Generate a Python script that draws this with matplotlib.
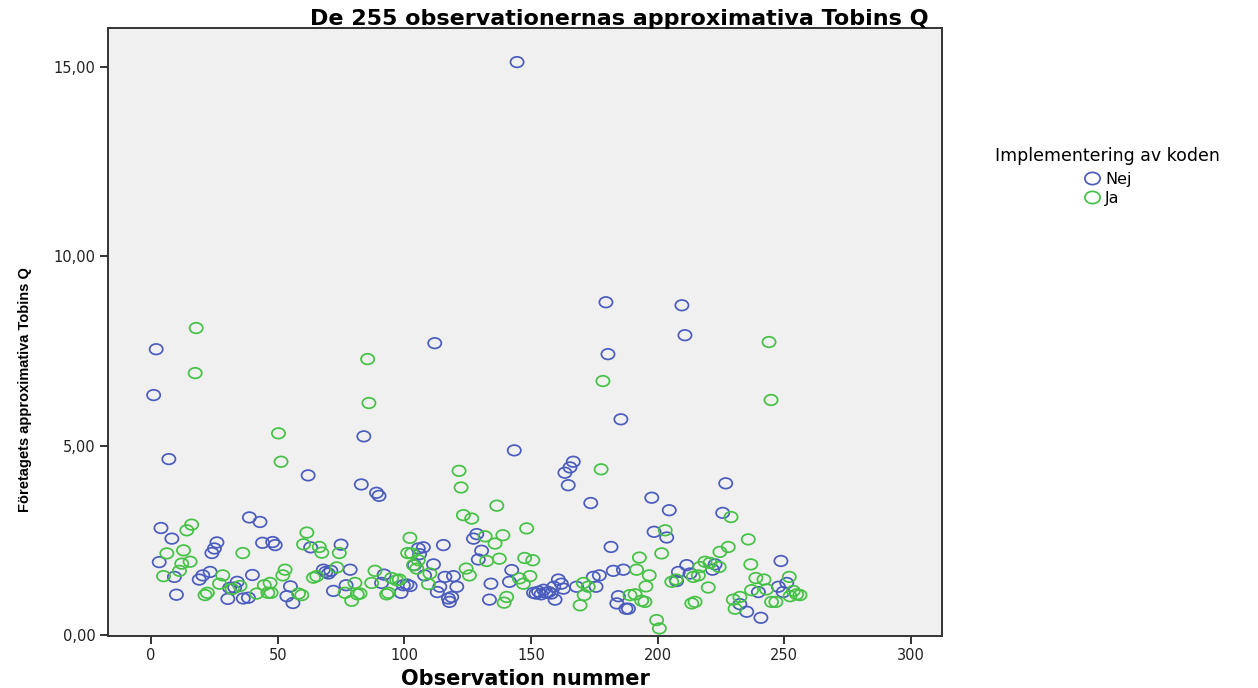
import matplotlib
matplotlib.use("Agg")
import matplotlib.pyplot as plt
from matplotlib.lines import Line2D
from matplotlib.path import Path
from matplotlib.transforms import Affine2D
from matplotlib import font_manager

# Observation number / Tobins Q, group "Nej" (blue)
nej_obs = [1, 2, 3.2, 3.9, 7, 8.2, 9.2, 10, 19, 20.4, 23.3, 24, 25, 26, 30.3, 31, 33, 34,
           36.4, 38.4, 38.8, 40, 43, 44, 48, 49, 53.6, 55, 56, 62, 63, 68, 69, 70, 71, 72,
           75, 77, 78.6, 83, 84, 89, 90, 91, 92, 98.7, 99.6, 101, 102.3, 104, 105.5, 106,
           107.5, 108, 111.5, 112, 113, 114, 115.4, 116, 117.4, 117.8, 118.7, 119.4, 120.7,
           127.3, 128.6, 129.2, 130.5, 133.6, 134.2, 141.5, 142.4, 143.4, 144.5,
           151, 152, 153, 154, 155, 156, 157, 158, 159, 159.5, 160.8, 162, 162.8,
           163.4, 164.7, 165.4, 166.7, 168, 173.6, 174.6, 175.7, 177, 179.6, 180.4, 181.6,
           182.5, 183.9, 184.5, 185.5, 186.5, 187.5, 188.5, 197.7, 198.6, 203.6, 204.6,
           207.5, 208.2, 209.6, 210.8, 211.5, 212.8, 221.7, 222.7, 225.7, 226.9, 232.5,
           235.2, 239.8, 240.8, 247.7, 248.7, 249.6, 251]
nej_q = [6.34, 7.55, 1.93, 2.83, 4.65, 2.55, 1.54, 1.07, 1.47, 1.58, 1.67, 2.17, 2.29, 2.45,
         0.96, 1.25, 1.26, 1.41, 0.97, 0.99, 3.11, 1.59, 2.99, 2.44, 2.46, 2.38, 1.03, 1.29,
         0.85, 4.22, 2.32, 1.73, 1.67, 1.63, 1.70, 1.17, 2.39, 1.32, 1.73, 3.98, 5.25, 3.76,
         3.68, 1.38, 1.60, 1.12, 1.32, 1.34, 1.30, 1.85, 2.29, 2.14, 2.32, 1.58, 1.87, 7.71,
         1.14, 1.28, 2.38, 1.54, 0.97, 0.88, 1.01, 1.56, 1.28, 2.55, 2.67, 2.00, 2.23, 0.94,
         1.36, 1.41, 1.72, 4.88, 15.13,
         1.12, 1.10, 1.15, 1.08, 1.20, 1.12, 1.14, 1.10, 1.28, 0.94, 1.47, 1.36, 1.23,
         4.29, 3.96, 4.43, 4.58, 1.28, 3.49, 1.54, 1.28, 1.58, 8.79, 7.42, 2.33,
         1.70, 0.84, 1.03, 5.70, 1.73, 0.70, 0.70, 3.63, 2.73, 2.58, 3.30,
         1.43, 1.67, 8.71, 7.92, 1.85, 1.63, 1.73, 1.87, 3.23, 4.01, 0.82,
         0.62, 1.14, 0.46, 1.28, 1.96, 1.14, 1.38]

# group "Ja" (green)
ja_obs = [4.9, 6.2, 11.2, 12.1, 12.8, 14.1, 15.4, 16, 17.4, 17.8, 21.3, 22.2, 27, 28.3, 32,
          35.1, 36.2, 41.7, 44.7, 46.1, 47, 47.4, 50.3, 51.3, 52, 52.9, 58.2, 59.5, 60.2,
          61.5, 64.1, 65.4, 66.4, 67.4, 73.3, 74.3, 76.6, 79.2, 80.5, 81.4, 82.5, 85.5, 86,
          87.1, 88.4, 93, 93.7, 95, 97, 98, 101.3, 102.2, 102.9, 103.6, 105.5, 104.9, 109.5,
          110.1, 121.6, 122.4, 123.3, 124.4, 125.7, 126.6, 131.9, 132.5, 135.8, 136.5,
          137.5, 138.9, 139.4, 140.4, 145.4, 147, 147.5, 148.3, 149.6, 150.7, 169.4, 170.7,
          171, 172.6, 177.7, 178.4, 189.1, 191.1, 191.7, 192.8, 193.7, 195, 195.4, 196.7,
          199.6, 200.7, 201.6, 203, 205.6, 207.3, 213.5, 214.8, 214.1, 216.1, 216.7, 218.7,
          220, 220.7, 224.3, 224.6, 227.9, 229, 229.9, 230.6, 232.5, 235.8, 236.8, 237.1,
          238.8, 242, 243, 244, 244.8, 245, 246.7, 252, 252.3, 253.6, 254.9, 256.2]
ja_q = [1.56, 2.16, 1.70, 1.89, 2.24, 2.77, 1.94, 2.92, 6.92, 8.11, 1.06, 1.12, 1.36, 1.58, 1.22,
        1.30, 2.17, 1.10, 1.32, 1.12, 1.38, 1.12, 5.33, 4.58, 1.58, 1.73, 1.10, 1.06, 2.40,
        2.71, 1.52, 1.56, 2.33, 2.18, 1.79, 2.17, 1.12, 0.91, 1.38, 1.08, 1.10, 7.29, 6.13,
        1.38, 1.70, 1.08, 1.12, 1.51, 1.45, 1.47, 2.17, 2.57, 2.16, 1.85, 1.98, 1.76, 1.35,
        1.63, 4.34, 3.90, 3.17, 1.76, 1.58, 3.08, 2.61, 1.96, 2.42, 3.42,
        2.02, 2.64, 0.86, 1.01, 1.50, 1.36, 2.04, 2.82, 1.56, 1.98, 0.79, 1.38,
        1.06, 1.28, 4.38, 6.71, 1.06, 1.08, 1.73, 2.05, 0.91, 0.88, 1.29, 1.58,
        0.40, 0.18, 2.16, 2.77, 1.41, 1.47, 0.84, 0.88, 1.54, 1.58, 1.80, 1.94,
        1.26, 1.91, 1.80, 2.20, 2.33, 3.12, 0.94, 0.70, 1.01, 2.53, 1.87, 1.19,
        1.51, 1.47, 1.21, 7.74, 6.21, 0.88, 0.88, 1.54, 1.03, 1.17, 1.08, 1.06]

x_ticks = [0, 50, 100, 150, 200, 250, 300]
y_ticks = [0, 5, 10, 15]
y_tick_labels = ["0,00", "5,00", "10,00", "15,00"]
legend_title = "Implementering av koden"
group_labels = ["Nej", "Ja"]

BLUE = "#4a5cbd"
GREEN = "#45c245"

plt.rcParams['font.family'] = ['DejaVu Sans']

names = {f.name for f in font_manager.fontManager.ttflist}
has_narrow = 'Liberation Sans Narrow' in names
ylab_family = ['Liberation Sans Narrow'] if has_narrow else ['Liberation Sans']
ylab_size = 12 if has_narrow else 10.5

# slightly wide ellipse marker (the reference is horizontally stretched)
ell = Path.unit_circle().transformed(Affine2D().scale(1.25, 1.0))

fig = plt.figure(figsize=(12.58, 6.88), dpi=100)
ax = fig.add_axes([0.0859, 0.0756, 0.6629, 0.8837])
ax.set_facecolor("#f0f0f0")

ax.scatter(nej_obs, nej_q, s=90, marker=ell, facecolors='none', edgecolors=BLUE,
           linewidths=1.25, zorder=3)
ax.scatter(ja_obs, ja_q, s=90, marker=ell, facecolors='none', edgecolors=GREEN,
           linewidths=1.25, zorder=3)

ax.set_xlim(-17, 312.3)
ax.set_ylim(-0.02, 16.03)
ax.set_xticks(x_ticks)
ax.set_yticks(y_ticks)
ax.set_yticklabels(y_tick_labels)
ax.tick_params(axis='both', direction='out', length=6, width=1.3, labelsize=10.5,
               colors='#222222', pad=3)
for sp in ax.spines.values():
    sp.set_linewidth(1.4)
    sp.set_color('#333333')

fig.text(0.492, 0.963, "De 255 observationernas approximativa Tobins Q", fontsize=16,
         fontweight='bold', ha='center', va='baseline')
ax.set_xlabel("Observation nummer", fontsize=15, fontweight='bold', labelpad=4)
ax.set_ylabel("Företagets approximativa Tobins Q", fontsize=ylab_size, fontweight='bold',
              family=ylab_family)
ax.yaxis.set_label_coords(-0.091, 0.405)

fig.text(0.880, 1 - 156 / 688, legend_title, fontsize=12.5, ha='center', va='center')
handles = [Line2D([], [], marker=ell, linestyle='none', markersize=11, markerfacecolor='none',
                  markeredgecolor=c, markeredgewidth=1.25, label=l)
           for c, l in zip([BLUE, GREEN], group_labels)]
leg = fig.legend(handles=handles, loc='center', bbox_to_anchor=(0.880, 1 - 189 / 688),
                 frameon=False, fontsize=11.5, handletextpad=0.25, labelspacing=0.25,
                 borderpad=0.0, handlelength=1.2)

fig.savefig("out.png", dpi=100)
